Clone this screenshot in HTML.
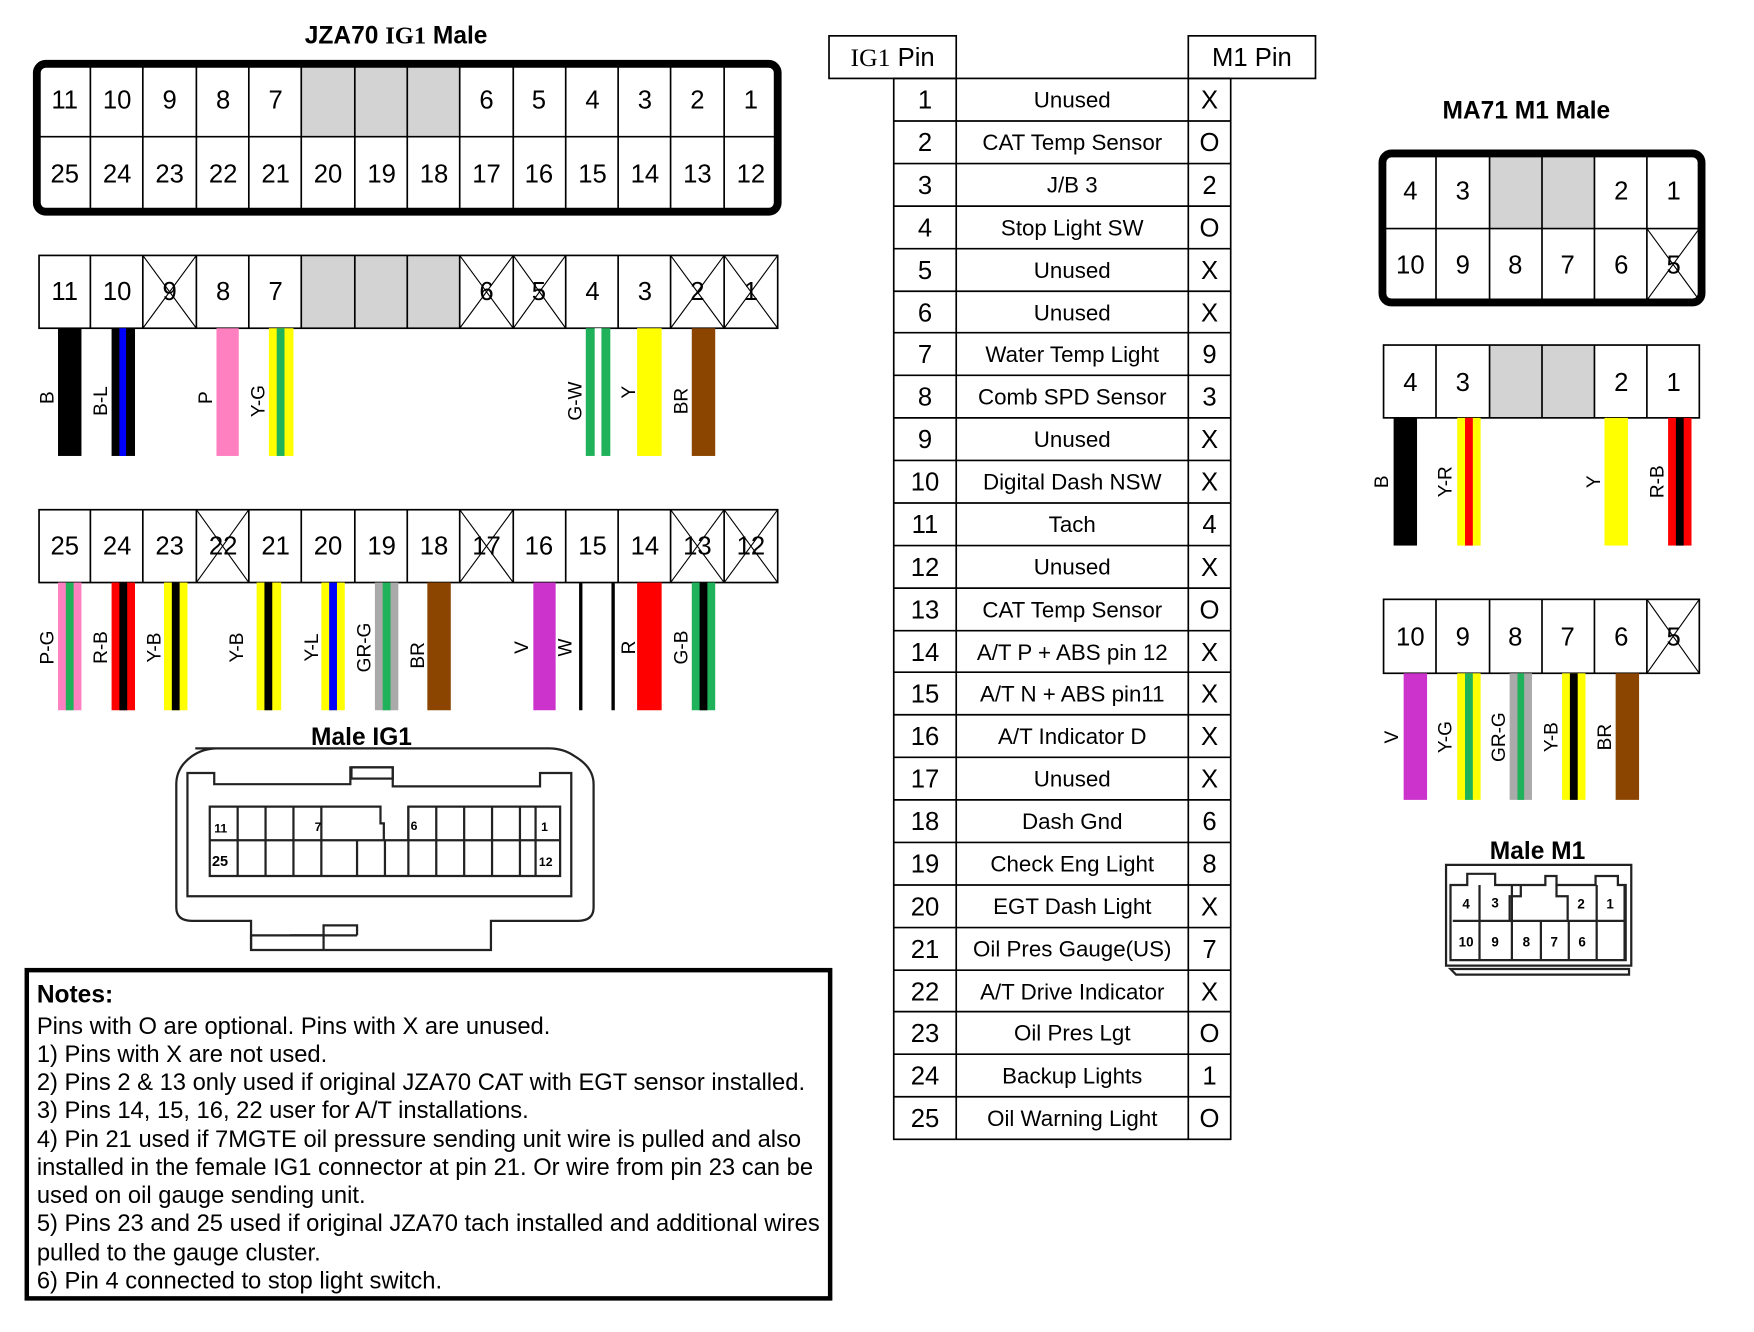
<!DOCTYPE html>
<html><head><meta charset="utf-8"><style>
html,body{margin:0;padding:0;background:#fff;}
svg{display:block;}
text{font-family:"Liberation Sans",Arial,sans-serif;}
.n{font-size:23px;text-anchor:middle;}
.t{font-size:20px;text-anchor:middle;}
.b{font-weight:bold;font-size:22px;text-anchor:middle;}
.w{font-size:17px;text-anchor:middle;}
.nt{font-size:21.3px;}
</style></head><body>
<svg width="1754" height="1332" viewBox="0 0 1572 1189" preserveAspectRatio="none" xmlns="http://www.w3.org/2000/svg">
<rect width="1600" height="1200" fill="#fff"/>
<g stroke="#000" stroke-width="1.5" fill="none">

<rect x="270" y="60" width="142" height="62" fill="#d3d3d3" stroke="none"/>
<rect x="33" y="57" width="664" height="132" rx="8" stroke-width="7"/>
<line x1="35" y1="122" x2="697" y2="122"/>
<path d="M81 60V188M128 60V188M176 60V188M223 60V188M270 60V188M318 60V188M365 60V188M412 60V188M460 60V188M507 60V188M554 60V188M601 60V188M649 60V188"/>

<rect x="270" y="228" width="142" height="65" fill="#d3d3d3" stroke="none"/>
<rect x="35" y="228" width="662" height="65"/>
<path d="M81 228V293M128 228V293M176 228V293M223 228V293M270 228V293M318 228V293M365 228V293M412 228V293M460 228V293M507 228V293M554 228V293M601 228V293M649 228V293"/>
<path stroke-width="1" d="M128 228L176 293M176 228L128 293M412 228L460 293M460 228L412 293M460 228L507 293M507 228L460 293M601 228L649 293M649 228L601 293M649 228L697 293M697 228L649 293"/>

<rect x="35" y="455" width="662" height="65"/>
<path d="M81 455V520M128 455V520M176 455V520M223 455V520M270 455V520M318 455V520M365 455V520M412 455V520M460 455V520M507 455V520M554 455V520M601 455V520M649 455V520"/>
<path stroke-width="1" d="M176 455L223 520M223 455L176 520M412 455L460 520M460 455L412 520M601 455L649 520M649 455L601 520M649 455L697 520M697 455L649 520"/>
</g>

<g stroke="none">
<rect x="52" y="293" width="21" height="114" fill="#000"/>
<rect x="100" y="293" width="21" height="114" fill="#000"/><rect x="107" y="293" width="6" height="114" fill="#0000ff"/>
<rect x="194" y="293" width="20" height="114" fill="#ff80c0"/>
<rect x="241" y="293" width="22" height="114" fill="#ffff00"/><rect x="248" y="293" width="7" height="114" fill="#1fb25a"/>
<rect x="525" y="293" width="22" height="114" fill="#1fb25a"/><rect x="533" y="293" width="6" height="114" fill="#fff"/>
<rect x="571" y="293" width="22" height="114" fill="#ffff00"/>
<rect x="620" y="293" width="21" height="114" fill="#8b4500"/>

<rect x="52" y="520" width="21" height="114" fill="#ff80c0"/><rect x="59" y="520" width="7" height="114" fill="#1fb25a"/>
<rect x="100" y="520" width="21" height="114" fill="#ff0000"/><rect x="107" y="520" width="7" height="114" fill="#000"/>
<rect x="147" y="520" width="21" height="114" fill="#ffff00"/><rect x="154" y="520" width="7" height="114" fill="#000"/>
<rect x="230" y="520" width="22" height="114" fill="#ffff00"/><rect x="237" y="520" width="7" height="114" fill="#000"/>
<rect x="288" y="520" width="21" height="114" fill="#ffff00"/><rect x="295" y="520" width="7" height="114" fill="#0000ff"/>
<rect x="336" y="520" width="21" height="114" fill="#aaaaaa"/><rect x="343" y="520" width="7" height="114" fill="#1fb25a"/>
<rect x="383" y="520" width="21" height="114" fill="#8b4500"/>
<rect x="478" y="520" width="20" height="114" fill="#cc33cc"/>
<rect x="519" y="520" width="3" height="114" fill="#000"/><rect x="548" y="520" width="3" height="114" fill="#000"/>
<rect x="571" y="520" width="22" height="114" fill="#ff0000"/>
<rect x="620" y="520" width="21" height="114" fill="#1fb25a"/><rect x="627" y="520" width="7" height="114" fill="#000"/>
</g>

<g class="n">
<text x="58" y="97">11</text><text x="105" y="97">10</text><text x="152" y="97">9</text><text x="200" y="97">8</text><text x="247" y="97">7</text>
<text x="436" y="97">6</text><text x="483" y="97">5</text><text x="531" y="97">4</text><text x="578" y="97">3</text><text x="625" y="97">2</text><text x="673" y="97">1</text>
<text x="58" y="163">25</text><text x="105" y="163">24</text><text x="152" y="163">23</text><text x="200" y="163">22</text><text x="247" y="163">21</text><text x="294" y="163">20</text><text x="342" y="163">19</text><text x="389" y="163">18</text><text x="436" y="163">17</text><text x="483" y="163">16</text><text x="531" y="163">15</text><text x="578" y="163">14</text><text x="625" y="163">13</text><text x="673" y="163">12</text>
<text x="58" y="268">11</text><text x="105" y="268">10</text><text x="152" y="268">9</text><text x="200" y="268">8</text><text x="247" y="268">7</text>
<text x="436" y="268">6</text><text x="483" y="268">5</text><text x="531" y="268">4</text><text x="578" y="268">3</text><text x="625" y="268">2</text><text x="673" y="268">1</text>
<text x="58" y="495">25</text><text x="105" y="495">24</text><text x="152" y="495">23</text><text x="200" y="495">22</text><text x="247" y="495">21</text><text x="294" y="495">20</text><text x="342" y="495">19</text><text x="389" y="495">18</text><text x="436" y="495">17</text><text x="483" y="495">16</text><text x="531" y="495">15</text><text x="578" y="495">14</text><text x="625" y="495">13</text><text x="673" y="495">12</text>
</g>

<text x="355" y="39" class="b">JZA70 <tspan font-family="Liberation Serif">IG1</tspan> Male</text>

<g class="w">
<text transform="translate(48,355) rotate(-90)">B</text>
<text transform="translate(96,358) rotate(-90)">B-L</text>
<text transform="translate(190,355) rotate(-90)">P</text>
<text transform="translate(237,358) rotate(-90)">Y-G</text>
<text transform="translate(521,358) rotate(-90)">G-W</text>
<text transform="translate(569,350) rotate(-90)">Y</text>
<text transform="translate(616,358) rotate(-90)">BR</text>
<text transform="translate(48,578) rotate(-90)">P-G</text>
<text transform="translate(96,578) rotate(-90)">R-B</text>
<text transform="translate(144,578) rotate(-90)">Y-B</text>
<text transform="translate(218,578) rotate(-90)">Y-B</text>
<text transform="translate(285,578) rotate(-90)">Y-L</text>
<text transform="translate(332,578) rotate(-90)">GR-G</text>
<text transform="translate(380,585) rotate(-90)">BR</text>
<text transform="translate(473,578) rotate(-90)">V</text>
<text transform="translate(512,578) rotate(-90)">W</text>
<text transform="translate(569,578) rotate(-90)">R</text>
<text transform="translate(616,578) rotate(-90)">G-B</text>
</g>

<text x="324" y="665" class="b">Male IG1</text>
<g stroke="#222" stroke-width="2" fill="none">
<path d="M175 668H492Q505 668 515 675Q532 685 532 700V810Q532 822 518 822H440V848H225V822H172Q158 822 158 810V700Q158 685 172 675Q182 668 195 668Z"/>
<path d="M168 690H192V700H314V685H352V702H484V690H512V800H168Z"/>
<rect x="315" y="685" width="37" height="10"/>
<path d="M188 720H341V735H344V750H366V720H502V782H188Z M188 750H502"/>
<path d="M213 720V782M238 720V782M263 720V782M288 720V782M320 750V782M345 750V782M366 720V782M391 720V782M416 720V782M441 720V782M466 720V782M480 720V782"/>
<path d="M260 835H290V848M290 835V826H320V835"/>
<path d="M225 848V835H320"/>
</g>
<g font-family="Liberation Serif" font-weight="bold" font-size="11">
<text x="192" y="743">11</text><text x="282" y="742">7</text><text x="368" y="741">6</text><text x="485" y="742">1</text>
<text x="190" y="773" font-size="13">25</text><text x="483" y="773">12</text>
</g>

<rect x="24" y="866" width="720" height="293" fill="none" stroke="#000" stroke-width="4"/>
<text x="33" y="895" font-weight="bold" font-size="22">Notes:</text>
<g class="nt">
<text x="33" y="923">Pins with O are optional.  Pins with X are unused.</text>
<text x="33" y="948">1) Pins with X are not used.</text>
<text x="33" y="973">2) Pins 2 &amp; 13 only used if original JZA70 CAT with EGT sensor installed.</text>
<text x="33" y="998">3) Pins 14, 15, 16, 22 user for A/T installations.</text>
<text x="33" y="1024">4) Pin 21 used if 7MGTE oil pressure sending unit wire is pulled and also</text>
<text x="33" y="1049">installed in the female IG1 connector at pin 21. Or wire from pin 23 can be</text>
<text x="33" y="1074">used on oil gauge sending unit.</text>
<text x="33" y="1099">5) Pins 23 and 25 used if original JZA70 tach installed and additional wires</text>
<text x="33" y="1125">pulled to the gauge cluster.</text>
<text x="33" y="1150">6) Pin 4 connected to stop light switch.</text>
</g>

<g stroke="#000" stroke-width="1.5" fill="none">
<rect x="743" y="32" width="114" height="38"/>
<rect x="1065" y="32" width="114" height="38"/>
<rect x="801" y="70" width="302" height="947"/>
<path d="M857 70V1017M1065 70V1017"/>
<path d="M801 108H1103M801 146H1103M801 184H1103M801 222H1103M801 260H1103M801 297H1103M801 335H1103M801 373H1103M801 411H1103M801 449H1103M801 487H1103M801 525H1103M801 563H1103M801 600H1103M801 638H1103M801 676H1103M801 714H1103M801 752H1103M801 790H1103M801 828H1103M801 866H1103M801 903H1103M801 941H1103M801 979H1103"/>
</g>
<text x="800" y="59" font-size="23" text-anchor="middle"><tspan font-family="Liberation Serif">IG1</tspan> Pin</text>
<text x="1122" y="59" font-size="23" text-anchor="middle">M1 Pin</text>
<g class="n" font-size="22">
<text x="829" y="97">1</text><text x="829" y="135">2</text><text x="829" y="173">3</text><text x="829" y="211">4</text><text x="829" y="249">5</text><text x="829" y="287">6</text><text x="829" y="324">7</text><text x="829" y="362">8</text><text x="829" y="400">9</text><text x="829" y="438">10</text><text x="829" y="476">11</text><text x="829" y="514">12</text><text x="829" y="552">13</text><text x="829" y="590">14</text><text x="829" y="627">15</text><text x="829" y="665">16</text><text x="829" y="703">17</text><text x="829" y="741">18</text><text x="829" y="779">19</text><text x="829" y="817">20</text><text x="829" y="855">21</text><text x="829" y="893">22</text><text x="829" y="930">23</text><text x="829" y="968">24</text><text x="829" y="1006">25</text>
<text x="1084" y="97">X</text><text x="1084" y="135">O</text><text x="1084" y="173">2</text><text x="1084" y="211">O</text><text x="1084" y="249">X</text><text x="1084" y="287">X</text><text x="1084" y="324">9</text><text x="1084" y="362">3</text><text x="1084" y="400">X</text><text x="1084" y="438">X</text><text x="1084" y="476">4</text><text x="1084" y="514">X</text><text x="1084" y="552">O</text><text x="1084" y="590">X</text><text x="1084" y="627">X</text><text x="1084" y="665">X</text><text x="1084" y="703">X</text><text x="1084" y="741">6</text><text x="1084" y="779">8</text><text x="1084" y="817">X</text><text x="1084" y="855">7</text><text x="1084" y="893">X</text><text x="1084" y="930">O</text><text x="1084" y="968">1</text><text x="1084" y="1006">O</text>
</g>
<g class="t">
<text x="961" y="96">Unused</text><text x="961" y="134">CAT Temp Sensor</text><text x="961" y="172">J/B 3</text><text x="961" y="210">Stop Light SW</text><text x="961" y="248">Unused</text><text x="961" y="286">Unused</text><text x="961" y="323">Water Temp Light</text><text x="961" y="361">Comb SPD Sensor</text><text x="961" y="399">Unused</text><text x="961" y="437">Digital Dash NSW</text><text x="961" y="475">Tach</text><text x="961" y="513">Unused</text><text x="961" y="551">CAT Temp Sensor</text><text x="961" y="589">A/T P + ABS pin 12</text><text x="961" y="626">A/T N + ABS pin11</text><text x="961" y="664">A/T Indicator D</text><text x="961" y="702">Unused</text><text x="961" y="740">Dash Gnd</text><text x="961" y="778">Check Eng Light</text><text x="961" y="816">EGT Dash Light</text><text x="961" y="854">Oil Pres Gauge(US)</text><text x="961" y="892">A/T Drive Indicator</text><text x="961" y="929">Oil Pres Lgt</text><text x="961" y="967">Backup Lights</text><text x="961" y="1005">Oil Warning Light</text>
</g>

<text x="1368" y="106" class="b">MA71 M1 Male</text>
<g stroke="#000" stroke-width="1.5" fill="none">
<rect x="1335" y="139" width="94" height="65" fill="#d3d3d3" stroke="none"/>
<rect x="1239" y="137" width="286" height="133" rx="8" stroke-width="7"/>
<path d="M1240 204H1523M1287 139V268M1335 139V268M1382 139V268M1429 139V268M1476 139V268"/>
<path stroke-width="1" d="M1476 204L1523 268M1523 204L1476 268"/>

<rect x="1335" y="308" width="94" height="65" fill="#d3d3d3" stroke="none"/>
<rect x="1240" y="308" width="283" height="65"/>
<path d="M1287 308V373M1335 308V373M1382 308V373M1429 308V373M1476 308V373"/>

<rect x="1240" y="535" width="283" height="66"/>
<path d="M1287 535V601M1335 535V601M1382 535V601M1429 535V601M1476 535V601"/>
<path stroke-width="1" d="M1476 535L1523 601M1523 535L1476 601"/>
</g>
<g stroke="none">
<rect x="1249" y="373" width="21" height="114" fill="#000"/>
<rect x="1306" y="373" width="21" height="114" fill="#ffff00"/><rect x="1313" y="373" width="7" height="114" fill="#ff0000"/>
<rect x="1438" y="373" width="21" height="114" fill="#ffff00"/>
<rect x="1495" y="373" width="21" height="114" fill="#ff0000"/><rect x="1502" y="373" width="7" height="114" fill="#000"/>
<rect x="1258" y="601" width="21" height="113" fill="#cc33cc"/>
<rect x="1306" y="601" width="21" height="113" fill="#ffff00"/><rect x="1313" y="601" width="7" height="113" fill="#1fb25a"/>
<rect x="1353" y="601" width="20" height="113" fill="#aaaaaa"/><rect x="1360" y="601" width="6" height="113" fill="#1fb25a"/>
<rect x="1400" y="601" width="21" height="113" fill="#ffff00"/><rect x="1407" y="601" width="7" height="113" fill="#000"/>
<rect x="1448" y="601" width="21" height="113" fill="#8b4500"/>
</g>
<g class="n">
<text x="1264" y="178">4</text><text x="1311" y="178">3</text><text x="1453" y="178">2</text><text x="1500" y="178">1</text>
<text x="1264" y="244">10</text><text x="1311" y="244">9</text><text x="1358" y="244">8</text><text x="1405" y="244">7</text><text x="1453" y="244">6</text><text x="1500" y="244">5</text>
<text x="1264" y="349">4</text><text x="1311" y="349">3</text><text x="1453" y="349">2</text><text x="1500" y="349">1</text>
<text x="1264" y="576">10</text><text x="1311" y="576">9</text><text x="1358" y="576">8</text><text x="1405" y="576">7</text><text x="1453" y="576">6</text><text x="1500" y="576">5</text>
</g>
<g class="w">
<text transform="translate(1244,430) rotate(-90)">B</text>
<text transform="translate(1301,430) rotate(-90)">Y-R</text>
<text transform="translate(1434,430) rotate(-90)">Y</text>
<text transform="translate(1491,430) rotate(-90)">R-B</text>
<text transform="translate(1253,658) rotate(-90)">V</text>
<text transform="translate(1301,658) rotate(-90)">Y-G</text>
<text transform="translate(1349,658) rotate(-90)">GR-G</text>
<text transform="translate(1396,658) rotate(-90)">Y-B</text>
<text transform="translate(1444,658) rotate(-90)">BR</text>
</g>

<text x="1378" y="767" class="b">Male M1</text>
<g stroke="#222" stroke-width="2" fill="none">
<path d="M1296 772H1462V862H1296Z"/>
<path d="M1300 790H1315V780H1340V790H1385V782H1395V790H1430V782H1450V790H1457V857H1300Z"/>
<path d="M1302 822H1457M1326 790V857M1355 790V857M1381 822V857M1406 822V857M1431 790V857M1456 790V857"/>
<path d="M1353 822V800H1363V790M1395 790V800H1405V822"/>
<path d="M1300 865H1460V870H1305Z"/>
</g>
<g font-weight="bold" font-size="12" text-anchor="middle" font-family="Liberation Serif">
<text x="1314" y="811">4</text><text x="1340" y="810">3</text><text x="1417" y="811">2</text><text x="1443" y="811">1</text>
<text x="1314" y="845">10</text><text x="1340" y="845">9</text><text x="1368" y="845">8</text><text x="1393" y="845">7</text><text x="1418" y="845">6</text>
</g>
</svg>
</body></html>
